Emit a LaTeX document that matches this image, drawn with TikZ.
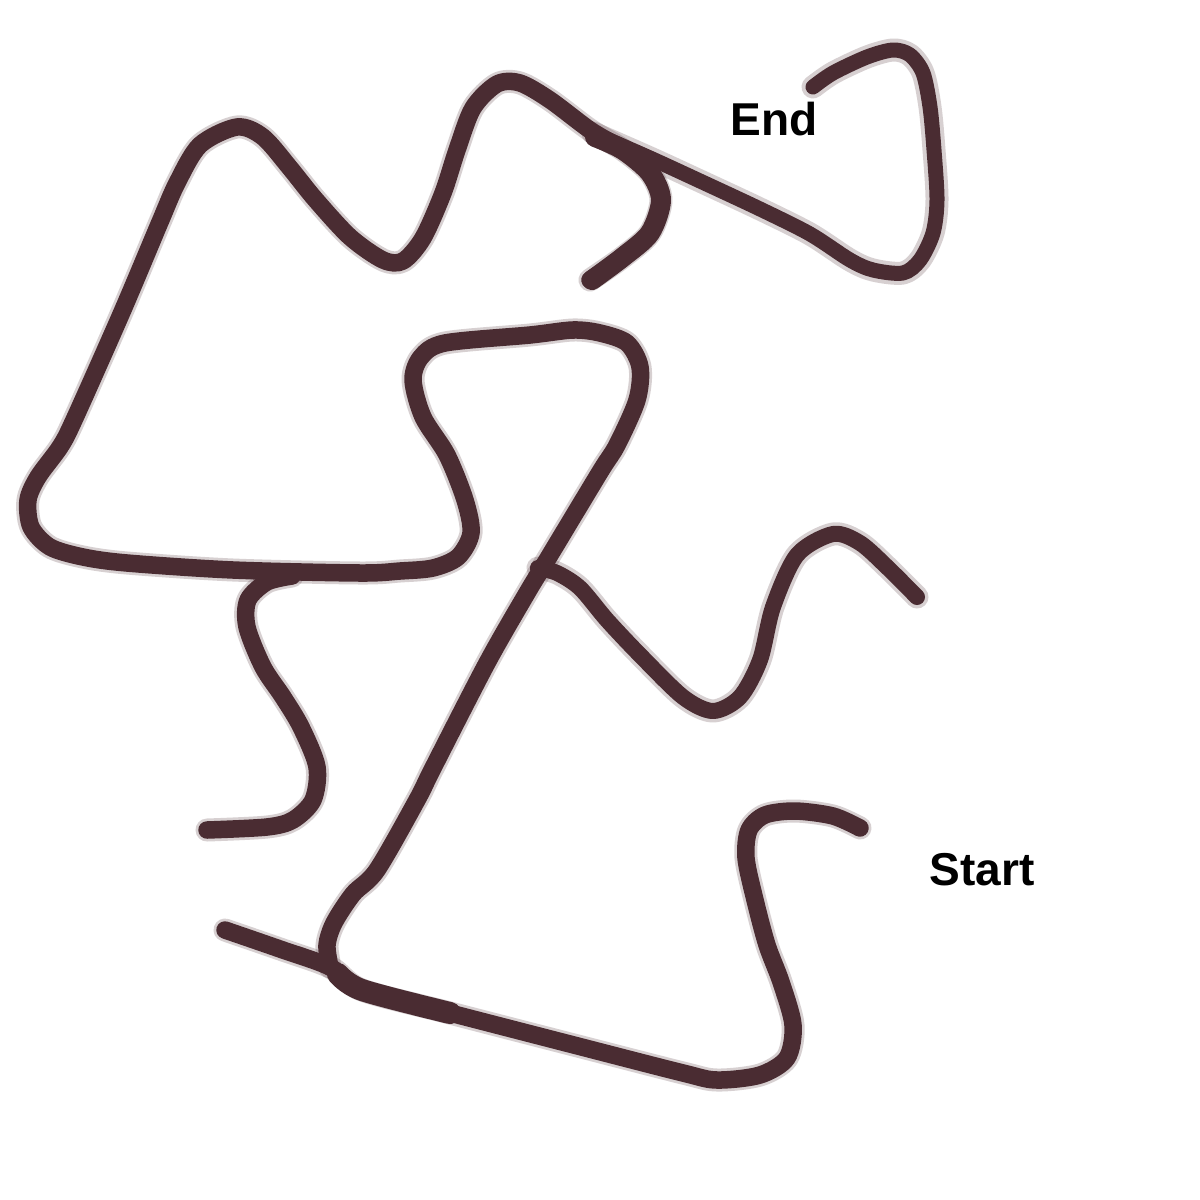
\documentclass[tikz,border=0pt]{standalone}
\usepackage{fontspec}
\setmainfont{Liberation Sans}
\definecolor{trail}{RGB}{74,44,50}
\begin{document}
\begin{tikzpicture}[x=0.01cm,y=-0.01cm,
  halo/.style={draw=trail,opacity=0.22,line width=0.23cm,line cap=round,line join=round},
  trailline/.style={draw=trail,line width=0.175cm,line cap=round,line join=round},
  label/.style={font=\fontsize{13.1}{15}\selectfont\bfseries,text=black,inner sep=0pt}]
\useasboundingbox[fill=white] (0,0) rectangle (1200,1200);
% paths
\def\pathA{(225,930) (280,949) (330,967) (362,990) (450,1013) (570,1044) (683,1073) (717,1080) (760,1075) (787,1058) (793,1025) (781,982) (767,945) (755,900) (746,858) (749,830) (765,815) (795,811) (833,816) (860,828)}
\def\pathB{(330,967) (327,945) (334,923) (353,894) (377,870) (417,800) (433,768) (487,663) (527,593) (547,560) (600,472) (617,445) (637,400) (640,367) (627,343) (600,333) (573,330) (530,335) (445,343) (421,357) (413,380) (423,417) (447,455) (465,500) (471,533) (458,557) (433,568) (400,571) (360,573) (233,570) (127,563) (83,557) (50,547) (31,527) (28,500) (38,477) (60,447) (74,420) (122,312) (160,222) (177,183) (200,145) (237,127) (263,137) (290,168) (315,199) (350,237) (383,260) (403,261) (423,238) (443,193) (457,150) (473,108) (497,84) (520,83) (550,100) (590,130) (623,150) (650,173) (661,200) (650,233) (623,257) (590,280)}
\def\pathC{(593,133) (650,158) (700,181) (760,209) (810,234) (850,260) (873,270) (903,273) (920,260) (933,233) (937,200) (934,150) (930,107) (923,73) (910,55) (893,50) (867,57) (833,73) (813,87)}
\def\pathD{(538,568) (557,573) (580,588) (607,620) (640,655) (683,697) (713,711) (740,697) (760,660) (773,607) (797,555) (833,534) (860,543) (887,567) (917,597)}
\def\pathE{(292,576) (267,582) (248,600) (247,627) (263,667) (283,697) (301,727) (317,767) (313,800) (293,820) (267,827) (207,830)}
\foreach \p in {\pathA,\pathB,\pathC,\pathD,\pathE}{
  \path[halo] plot[smooth,tension=0.5] coordinates {\p};
}
\path[trailline] plot[smooth,tension=0.5] coordinates {\pathA};
\path[trailline] plot[smooth,tension=0.5] coordinates {\pathB};
\path[trailline,line width=0.15cm] plot[smooth,tension=0.5] coordinates {\pathC};
\path[trailline,line width=0.16cm] plot[smooth,tension=0.5] coordinates {\pathD};
\path[trailline] plot[smooth,tension=0.5] coordinates {\pathE};
% thicker stretches
\path[trailline,line width=0.22cm] plot[smooth,tension=0.5] coordinates {(338,974) (362,990) (450,1013)};
\path[trailline,line width=0.2cm] plot[smooth,tension=0.5] coordinates {(595,137) (623,150) (650,173) (661,200) (650,233) (623,257) (592,280)};
\node[label] (start) at (982,870) {Start};
\node[label] (end) at (774,119) {End};
\end{tikzpicture}
\end{document}
